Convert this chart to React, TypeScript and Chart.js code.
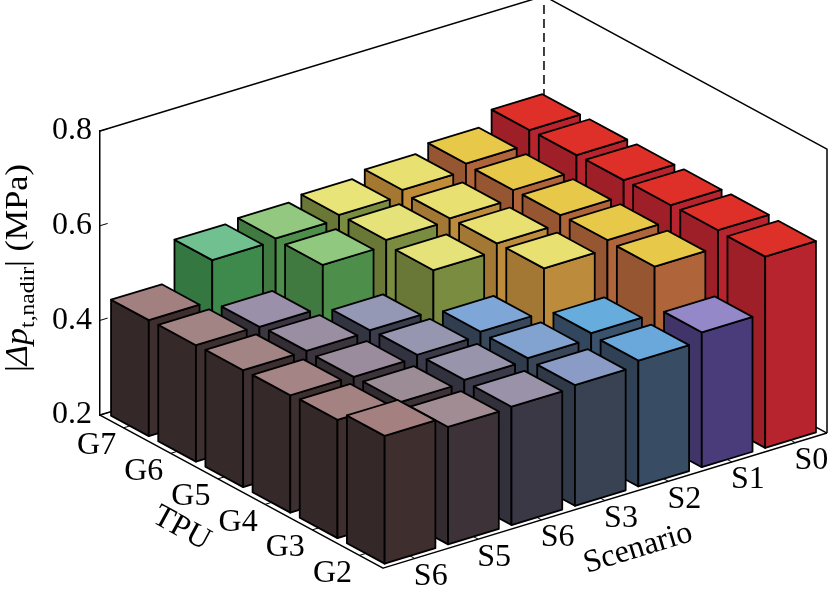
import { useEffect, useRef } from "react";
import { Chart, registerables } from "chart.js";

Chart.register(...registerables);

// scenario axis runs from the front corner to the right, TPU axis from the front corner to the left
const scenarios = ["S6", "S5", "S6", "S3", "S2", "S1", "S0"];
const tpus = ["G2", "G3", "G4", "G5", "G6", "G7"];

const g2 = [0.47, 0.448, 0.45, 0.455, 0.466, 0.485, 0.604];
const g3 = [0.45, 0.447, 0.453, 0.458, 0.47, 0.57, 0.606];
const g4 = [0.448, 0.446, 0.452, 0.46, 0.553, 0.572, 0.605];
const g5 = [0.447, 0.447, 0.45, 0.536, 0.552, 0.571, 0.604];
const g6 = [0.446, 0.444, 0.534, 0.546, 0.551, 0.57, 0.603];
const g7 = [0.445, 0.531, 0.536, 0.545, 0.557, 0.572, 0.602];
const rows = [g2, g3, g4, g5, g6, g7];

const zTicks = [0.2, 0.4, 0.6, 0.8];

// bar colours (top face / side face), same layout as the value rows
const topColors = [
  ["#a58080", "#a08c92", "#9a92a8", "#8a9cc6", "#6aa8dc", "#9488c8", "#dc3028"],
  ["#a48282", "#9c8c96", "#9894ac", "#82a2d0", "#66acdc", "#e8c848", "#de3028"],
  ["#a48484", "#9a8c9c", "#9696b0", "#7ea6d6", "#e8e070", "#e8c848", "#de3028"],
  ["#a28484", "#9a8ea2", "#9498b4", "#e6e27a", "#e8e070", "#e8c848", "#de3028"],
  ["#a28484", "#9a90aa", "#90c880", "#e6e27a", "#e8e070", "#e8c848", "#de3028"],
  ["#a28080", "#70c090", "#92c880", "#e8e478", "#e8e070", "#e8c848", "#de3028"],
];
const sideColors = [
  ["#3e2e2e", "#3c3238", "#3a3844", "#384252", "#384c64", "#4a3c7a", "#b8242e"],
  ["#3e2e2e", "#3c3238", "#3a3a48", "#384658", "#3a526c", "#b0643a", "#b8242e"],
  ["#3e3030", "#3c343a", "#3a3a4a", "#38485c", "#bc8c3c", "#b0643a", "#b8242e"],
  ["#3e3030", "#3c343c", "#3a3c4c", "#7a8c40", "#bc8c3c", "#b0643a", "#b8242e"],
  ["#3e3030", "#3c3640", "#4c8e4a", "#7a8c40", "#bc8c3c", "#b0643a", "#b8242e"],
  ["#3e2e2e", "#3e8a4c", "#4c8e4a", "#7a8c40", "#c08c3a", "#b0643a", "#b8242e"],
];

const FONT = "'Liberation Serif', 'Times New Roman', serif";

// oblique projection of the floor grid onto the two chart scales
const SKEW = 0.7437; // horizontal shift per TPU cell, in scenario cells
const DROP = 0.3235; // value units the front corner sits below the left corner
const RISE_S = 0.04076; // rise per scenario cell
const RISE_T = 0.05389; // rise per TPU cell
const BAR = 0.8;

const shade = (hex: string, f: number) => {
  const n = parseInt(hex.slice(1), 16);
  const r = Math.round(((n >> 16) & 255) * f);
  const g = Math.round(((n >> 8) & 255) * f);
  const b = Math.round((n & 255) * f);
  return `rgb(${r},${g},${b})`;
};

const bars3d = {
  id: "bars3d",
  afterDraw(chart: any) {
    const { ctx, chartArea } = chart;
    const xs = chart.scales.x;
    const ys = chart.scales.y;
    const nS = scenarios.length;
    const nT = tpus.length;
    const zMin = ys.min;
    const zMax = ys.max;
    const P = (s: number, t: number, z: number): [number, number] => [
      xs.getPixelForValue(s - SKEW * t),
      ys.getPixelForValue(z - DROP + RISE_S * s + RISE_T * t),
    ];
    const path = (pts: [number, number][], close = false) => {
      ctx.beginPath();
      pts.forEach((p, k) => (k ? ctx.lineTo(p[0], p[1]) : ctx.moveTo(p[0], p[1])));
      if (close) ctx.closePath();
    };

    ctx.save();
    ctx.lineJoin = "round";
    ctx.strokeStyle = "#000";
    ctx.lineWidth = 1.5;

    // back of the box
    path([P(0, nT, zMin), P(nS, nT, zMin), P(nS, 0, zMin)]);
    ctx.stroke();
    path([P(0, nT, zMax), P(nS, nT, zMax), P(nS, 0, zMax), P(nS, 0, zMin)]);
    ctx.stroke();
    ctx.setLineDash([9, 5]);
    path([P(nS, nT, zMin), P(nS, nT, zMax)]);
    ctx.stroke();
    ctx.setLineDash([]);

    // bars, far ones first
    const cells: { s: number; t: number; v: number }[] = [];
    chart.data.datasets.forEach((ds: any, t: number) =>
      ds.data.forEach((pt: any, s: number) => cells.push({ s, t, v: pt.y }))
    );
    cells.sort((a, b) => b.s + b.t - (a.s + a.t));
    const g = (1 - BAR) / 2;
    ctx.lineWidth = 1.8;
    cells.forEach(({ s, t, v }) => {
      const s0 = s + g, s1 = s + 1 - g, t0 = t + g, t1 = t + 1 - g;
      const side = sideColors[t][s];
      const top = topColors[t][s];
      path([P(s0, t0, zMin), P(s0, t1, zMin), P(s0, t1, v), P(s0, t0, v)], true);
      ctx.fillStyle = shade(side, 0.86);
      ctx.fill();
      ctx.stroke();
      path([P(s0, t0, zMin), P(s1, t0, zMin), P(s1, t0, v), P(s0, t0, v)], true);
      ctx.fillStyle = side;
      ctx.fill();
      ctx.stroke();
      path([P(s0, t0, v), P(s1, t0, v), P(s1, t1, v), P(s0, t1, v)], true);
      ctx.fillStyle = top;
      ctx.fill();
      ctx.stroke();
    });

    // front floor edges and ticks
    ctx.lineWidth = 1.5;
    path([P(0, nT, zMin), P(0, 0, zMin), P(nS, 0, zMin)]);
    ctx.stroke();
    ctx.lineWidth = 1;
    for (let t = 0; t < nT; t++) {
      path([P(0, t + 0.5, zMin), P(0.1, t + 0.5, zMin)]);
      ctx.stroke();
    }
    for (let s = 0; s < nS; s++) {
      path([P(s + 0.5, 0, zMin), P(s + 0.5, 0.1, zMin)]);
      ctx.stroke();
    }
    zTicks.forEach((z) => {
      path([P(0, nT, z), P(0.12, nT, z)]);
      ctx.stroke();
    });

    // category labels
    ctx.fillStyle = "#000";
    ctx.font = `32px ${FONT}`;
    ctx.textAlign = "center";
    ctx.textBaseline = "middle";
    tpus.forEach((lab, t) => {
      const [x, y] = P(0, t + 0.5, zMin);
      ctx.fillText(lab, x - 27, y + 18);
    });
    scenarios.forEach((lab, s) => {
      const [x, y] = P(s + 0.5, 0, zMin);
      ctx.fillText(lab, x + 16, y + 18);
    });

    // axis titles along the floor edges
    const F = P(0, 0, zMin);
    const L = P(0, nT, zMin);
    const R = P(nS, 0, zMin);
    const tm = P(0, nT / 2, zMin);
    ctx.save();
    ctx.translate(tm[0] - 60, tm[1] + 37);
    ctx.rotate(Math.atan2(F[1] - L[1], F[0] - L[0]));
    ctx.fillText("TPU", 0, 0);
    ctx.restore();
    const sm = P(nS / 2, 0, zMin);
    ctx.save();
    ctx.translate(sm[0] + 33, sm[1] + 48);
    ctx.rotate(Math.atan2(R[1] - F[1], R[0] - F[0]));
    ctx.fillText("Scenario", 0, 0);
    ctx.restore();

    // value axis title with italic symbol and subscript
    const big = `32px ${FONT}`;
    const bigIt = `italic 32px ${FONT}`;
    const small = `22px ${FONT}`;
    const parts: [string, string, number][] = [
      ["|", big, 0],
      ["\u0394p", bigIt, 0],
      ["t,nadir", small, 7],
      ["| (MPa)", big, 0],
    ];
    let total = 0;
    parts.forEach(([txt, f]) => {
      ctx.font = f;
      total += ctx.measureText(txt).width;
    });
    const span = 208;
    ctx.save();
    ctx.translate(27, (chartArea.top + chartArea.bottom) / 2 - 5);
    ctx.rotate(-Math.PI / 2);
    ctx.scale(span / total, 1);
    ctx.textAlign = "left";
    ctx.textBaseline = "alphabetic";
    let cx = -total / 2;
    parts.forEach(([txt, f, dy]) => {
      ctx.font = f;
      ctx.fillText(txt, cx, dy);
      cx += ctx.measureText(txt).width;
    });
    ctx.restore();

    ctx.restore();
  },
};

const App = () => {
  const canvasRef = useRef<HTMLCanvasElement | null>(null);

  useEffect(() => {
    document.body.style.margin = "0";
    if (!canvasRef.current) return;

    const chart = new Chart(canvasRef.current, {
      type: "scatter",
      data: {
        datasets: rows.map((row, t) => ({
          label: tpus[t],
          data: row.map((v, s) => ({ x: s, y: v })),
          pointRadius: 0,
        })),
      },
      options: {
        animation: false,
        responsive: true,
        maintainAspectRatio: false,
        events: [],
        layout: { padding: { left: 0, right: 1, top: 131, bottom: 182 } },
        plugins: { legend: { display: false }, tooltip: { enabled: false } },
        scales: {
          x: {
            type: "linear",
            display: false,
            min: -SKEW * tpus.length,
            max: scenarios.length,
          },
          y: {
            type: "linear",
            min: zTicks[0],
            max: zTicks[zTicks.length - 1],
            afterFit: (scale: any) => {
              scale.width = 100;
            },
            afterBuildTicks: (scale: any) => {
              scale.ticks = zTicks.map((v) => ({ value: v }));
            },
            grid: { display: false, drawTicks: false },
            border: { display: true, color: "#000", width: 1.5 },
            ticks: {
              padding: 8,
              color: "#000",
              font: { family: FONT, size: 32 },
              callback: (v: any) => Number(v).toFixed(1),
            },
          },
        },
      },
      plugins: [bars3d],
    });

    return () => {
      chart.destroy();
    };
  }, []);

  return (
    <div style={{ position: "relative", width: 828, height: 597 }}>
      <canvas ref={canvasRef} />
    </div>
  );
};

export default App;
